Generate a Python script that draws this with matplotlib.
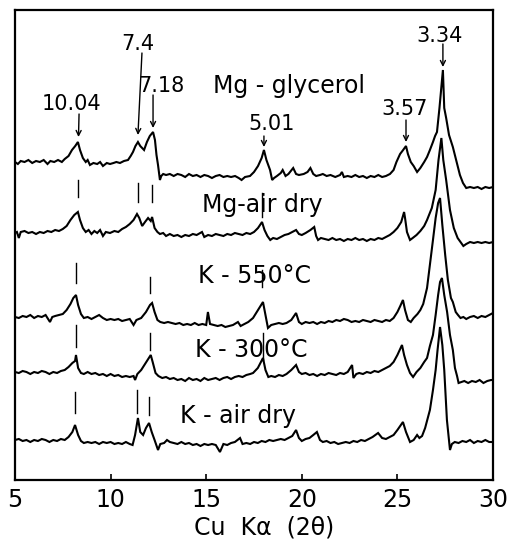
import numpy as np
import matplotlib
matplotlib.use("Agg")
import matplotlib.pyplot as plt

# XRD traces: (2-theta, intensity on the stacked plot scale)
mg_glycerol = np.array([
    (5.00, 318), (5.15, 316), (5.30, 319), (5.50, 318), (5.70, 320), (5.90, 317),
    (6.10, 319), (6.30, 318), (6.50, 320), (6.70, 316), (6.85, 319), (7.05, 318),
    (7.25, 320), (7.45, 318), (7.60, 321), (7.80, 324), (7.98, 330), (8.15, 334),
    (8.29, 338), (8.40, 330), (8.55, 322), (8.70, 318), (8.80, 320), (8.92, 315),
    (9.10, 317), (9.30, 316), (9.45, 318), (9.60, 314), (9.80, 317), (9.97, 316),
    (10.15, 317), (10.30, 318), (10.49, 317), (10.70, 319), (10.91, 320), (11.05, 324),
    (11.17, 328), (11.30, 334), (11.43, 338), (11.55, 334), (11.75, 330), (11.90, 338),
    (12.05, 344), (12.22, 348), (12.32, 340), (12.40, 325), (12.48, 315), (12.58, 300),
    (12.65, 304), (12.75, 306), (12.90, 305), (13.10, 306), (13.30, 304), (13.50, 306),
    (13.70, 305), (13.90, 303), (14.10, 306), (14.30, 304), (14.50, 305), (14.70, 303),
    (14.90, 305), (15.10, 304), (15.30, 302), (15.50, 304), (15.70, 305), (15.90, 303),
    (16.10, 304), (16.30, 303), (16.51, 304), (16.70, 302), (16.85, 300), (17.03, 303),
    (17.29, 304), (17.50, 308), (17.71, 314), (17.90, 322), (18.02, 330), (18.15, 320),
    (18.34, 310), (18.45, 300), (18.55, 302), (18.70, 304), (18.90, 307), (19.00, 310),
    (19.15, 304), (19.30, 306), (19.55, 312), (19.70, 306), (19.85, 305), (20.10, 306),
    (20.30, 308), (20.45, 312), (20.60, 306), (20.75, 304), (20.95, 305), (21.10, 306),
    (21.30, 304), (21.50, 305), (21.75, 303), (22.00, 305), (22.10, 308), (22.20, 303),
    (22.40, 304), (22.60, 303), (22.80, 305), (23.00, 303), (23.20, 304), (23.40, 302),
    (23.60, 304), (23.80, 303), (24.00, 305), (24.20, 303), (24.40, 304), (24.61, 306),
    (24.80, 310), (24.95, 318), (25.14, 326), (25.30, 330), (25.45, 334), (25.55, 326),
    (25.70, 318), (25.85, 314), (26.03, 308), (26.20, 312), (26.40, 318), (26.55, 323),
    (26.70, 330), (26.86, 338), (26.97, 344), (27.07, 348), (27.20, 372), (27.33, 400),
    (27.38, 410), (27.45, 372), (27.55, 362), (27.70, 345), (27.90, 333), (28.10, 318),
    (28.27, 305), (28.43, 297), (28.60, 292), (28.80, 293), (29.00, 292), (29.20, 293),
    (29.40, 291), (29.60, 293), (29.80, 292), (30.00, 293),
])

mg_air_dry = np.array([
    (5.00, 247), (5.10, 248), (5.20, 242), (5.30, 248), (5.50, 249), (5.70, 247),
    (5.90, 248), (6.10, 246), (6.30, 248), (6.50, 247), (6.70, 249), (6.90, 248),
    (7.10, 250), (7.30, 249), (7.50, 251), (7.70, 254), (7.90, 260), (8.10, 265),
    (8.29, 268), (8.40, 260), (8.55, 252), (8.70, 248), (8.85, 250), (9.00, 246),
    (9.15, 249), (9.30, 247), (9.45, 250), (9.60, 244), (9.75, 248), (9.97, 247),
    (10.20, 249), (10.40, 248), (10.60, 251), (10.80, 253), (11.00, 256), (11.20, 260),
    (11.38, 266), (11.50, 262), (11.65, 254), (11.80, 258), (11.96, 262), (12.10, 259),
    (12.17, 263), (12.30, 252), (12.45, 248), (12.58, 246), (12.75, 247), (12.90, 244),
    (13.10, 246), (13.30, 244), (13.50, 245), (13.70, 243), (13.90, 245), (14.10, 244),
    (14.30, 246), (14.50, 245), (14.78, 248), (14.90, 243), (15.10, 245), (15.30, 244),
    (15.50, 246), (15.70, 245), (15.90, 244), (16.10, 246), (16.30, 245), (16.50, 247),
    (16.70, 246), (16.90, 245), (17.10, 247), (17.30, 246), (17.50, 248), (17.71, 252),
    (17.85, 256), (17.92, 258), (18.05, 250), (18.20, 244), (18.35, 240), (18.50, 242),
    (18.70, 241), (18.90, 243), (19.10, 245), (19.30, 246), (19.50, 248), (19.70, 250),
    (19.85, 246), (20.00, 245), (20.20, 247), (20.45, 250), (20.65, 253), (20.75, 244),
    (20.85, 240), (21.00, 242), (21.20, 241), (21.40, 240), (21.60, 242), (21.80, 240),
    (22.00, 241), (22.20, 239), (22.40, 241), (22.60, 240), (22.80, 242), (23.00, 240),
    (23.20, 241), (23.40, 239), (23.60, 241), (23.80, 240), (24.00, 242), (24.20, 241),
    (24.40, 243), (24.60, 245), (24.80, 248), (25.00, 252), (25.20, 258), (25.35, 268),
    (25.40, 262), (25.50, 248), (25.66, 240), (25.80, 242), (26.00, 245), (26.20, 249),
    (26.40, 254), (26.55, 260), (26.80, 272), (27.00, 290), (27.15, 320), (27.30, 342),
    (27.40, 320), (27.55, 300), (27.75, 270), (27.95, 252), (28.15, 242), (28.30, 238),
    (28.45, 234), (28.60, 236), (28.80, 238), (29.00, 237), (29.20, 238), (29.40, 237),
    (29.60, 238), (29.80, 237), (30.00, 238),
])

k_550 = np.array([
    (5.00, 163), (5.20, 162), (5.40, 164), (5.60, 163), (5.80, 165), (6.00, 162),
    (6.20, 164), (6.40, 163), (6.60, 165), (6.83, 158), (6.95, 163), (7.10, 164),
    (7.30, 165), (7.50, 166), (7.70, 170), (7.90, 176), (8.05, 182), (8.19, 185),
    (8.30, 175), (8.45, 166), (8.60, 162), (8.80, 163), (9.00, 161), (9.20, 163),
    (9.40, 165), (9.60, 162), (9.80, 160), (10.00, 161), (10.20, 160), (10.40, 161),
    (10.60, 159), (10.80, 160), (11.00, 161), (11.20, 155), (11.35, 160), (11.60, 162),
    (11.85, 168), (12.06, 175), (12.17, 177), (12.30, 168), (12.45, 160), (12.60, 158),
    (12.80, 157), (13.00, 158), (13.20, 157), (13.40, 156), (13.60, 157), (13.80, 155),
    (14.00, 156), (14.20, 155), (14.40, 157), (14.60, 155), (14.80, 156), (15.00, 155),
    (15.09, 168), (15.20, 156), (15.40, 155), (15.60, 154), (15.80, 155), (16.00, 153),
    (16.20, 154), (16.40, 155), (16.66, 158), (16.80, 154), (17.00, 156), (17.20, 158),
    (17.45, 162), (17.71, 170), (17.97, 178), (18.10, 165), (18.23, 152), (18.40, 155),
    (18.60, 156), (18.80, 157), (19.00, 156), (19.20, 157), (19.45, 160), (19.70, 167),
    (19.85, 158), (20.00, 156), (20.20, 158), (20.40, 157), (20.60, 158), (20.80, 156),
    (21.00, 158), (21.20, 157), (21.40, 159), (21.60, 158), (21.80, 160), (22.00, 159),
    (22.20, 161), (22.40, 160), (22.60, 158), (22.80, 159), (23.00, 158), (23.20, 160),
    (23.40, 159), (23.60, 158), (23.80, 160), (24.00, 159), (24.20, 158), (24.40, 160),
    (24.60, 159), (24.80, 162), (25.00, 168), (25.15, 174), (25.29, 180), (25.40, 170),
    (25.55, 160), (25.70, 158), (25.85, 162), (26.05, 166), (26.20, 170), (26.35, 176),
    (26.55, 192), (26.70, 215), (26.86, 240), (27.00, 262), (27.13, 277), (27.23, 282),
    (27.35, 255), (27.50, 225), (27.64, 200), (27.80, 182), (27.90, 178), (28.05, 168),
    (28.17, 165), (28.30, 162), (28.45, 163), (28.60, 161), (28.80, 163), (29.00, 164),
    (29.20, 162), (29.40, 164), (29.60, 163), (29.80, 165), (30.00, 167),
])

k_300 = np.array([
    (5.00, 108), (5.20, 107), (5.40, 109), (5.60, 108), (5.80, 106), (6.00, 108),
    (6.20, 107), (6.40, 109), (6.60, 108), (6.80, 106), (7.00, 108), (7.20, 107),
    (7.40, 109), (7.60, 110), (7.80, 113), (8.00, 117), (8.14, 119), (8.19, 125),
    (8.30, 112), (8.45, 107), (8.60, 106), (8.80, 108), (9.00, 106), (9.20, 107),
    (9.40, 105), (9.60, 106), (9.80, 104), (10.00, 106), (10.20, 104), (10.40, 105),
    (10.60, 103), (10.80, 104), (11.00, 103), (11.20, 104), (11.28, 100), (11.40, 106),
    (11.60, 110), (11.80, 116), (11.96, 121), (12.10, 125), (12.20, 118), (12.35, 107),
    (12.50, 104), (12.70, 102), (12.90, 103), (13.10, 101), (13.30, 102), (13.50, 100),
    (13.70, 101), (13.90, 99), (14.10, 102), (14.30, 100), (14.50, 101), (14.70, 99),
    (14.90, 102), (15.10, 100), (15.30, 101), (15.50, 102), (15.70, 100), (15.90, 102),
    (16.10, 103), (16.30, 101), (16.50, 103), (16.70, 104), (16.90, 103), (17.10, 105),
    (17.30, 106), (17.45, 107), (17.70, 112), (17.97, 122), (18.10, 110), (18.25, 103),
    (18.40, 104), (18.60, 103), (18.80, 105), (19.00, 104), (19.20, 106), (19.45, 110),
    (19.70, 115), (19.85, 108), (20.00, 106), (20.20, 107), (20.40, 105), (20.60, 106),
    (20.80, 104), (21.00, 106), (21.20, 105), (21.40, 107), (21.60, 106), (21.80, 105),
    (22.00, 107), (22.20, 106), (22.40, 108), (22.63, 115), (22.70, 102), (22.85, 106),
    (23.00, 107), (23.20, 106), (23.40, 108), (23.60, 107), (23.80, 109), (24.00, 108),
    (24.20, 110), (24.40, 112), (24.60, 114), (24.80, 118), (25.00, 125), (25.24, 135),
    (25.35, 125), (25.50, 115), (25.66, 107), (25.82, 103), (26.00, 108), (26.20, 112),
    (26.40, 118), (26.55, 122), (26.70, 134), (26.86, 145), (27.00, 165), (27.13, 185),
    (27.23, 198), (27.33, 202), (27.45, 185), (27.60, 168), (27.75, 145), (27.90, 130),
    (28.01, 112), (28.12, 104), (28.20, 97), (28.35, 98), (28.50, 99), (28.70, 97),
    (28.90, 99), (29.10, 98), (29.30, 100), (29.50, 97), (29.70, 99), (29.90, 100),
    (30.00, 100),
])

k_air_dry = np.array([
    (5.00, 40), (5.20, 41), (5.40, 39), (5.60, 40), (5.80, 38), (6.00, 40),
    (6.20, 39), (6.40, 41), (6.60, 40), (6.80, 38), (7.00, 40), (7.20, 39),
    (7.40, 41), (7.60, 40), (7.80, 43), (8.00, 48), (8.14, 55), (8.30, 45),
    (8.45, 39), (8.60, 37), (8.80, 38), (9.00, 37), (9.20, 38), (9.40, 36),
    (9.60, 38), (9.80, 37), (10.00, 38), (10.20, 36), (10.40, 37), (10.60, 36),
    (10.80, 38), (11.00, 36), (11.15, 35), (11.28, 45), (11.43, 62), (11.55, 48),
    (11.70, 45), (11.85, 52), (12.01, 57), (12.15, 48), (12.30, 40), (12.48, 30),
    (12.60, 36), (12.80, 37), (12.95, 40), (13.10, 38), (13.30, 37), (13.50, 36),
    (13.70, 38), (13.90, 36), (14.10, 37), (14.30, 35), (14.50, 36), (14.70, 34),
    (14.90, 36), (15.10, 35), (15.30, 36), (15.50, 35), (15.72, 28), (15.90, 36),
    (16.10, 35), (16.30, 37), (16.50, 38), (16.77, 42), (16.90, 36), (17.10, 37),
    (17.30, 36), (17.50, 38), (17.70, 37), (17.90, 39), (18.10, 38), (18.30, 40),
    (18.50, 39), (18.70, 40), (18.90, 41), (19.10, 40), (19.30, 42), (19.50, 44),
    (19.70, 50), (19.85, 42), (20.00, 39), (20.20, 41), (20.40, 42), (20.60, 45),
    (20.79, 48), (20.95, 40), (21.10, 38), (21.30, 39), (21.50, 37), (21.70, 38),
    (21.90, 36), (22.10, 37), (22.30, 38), (22.50, 37), (22.70, 39), (22.90, 38),
    (23.10, 40), (23.30, 39), (23.50, 41), (23.70, 43), (23.99, 47), (24.20, 42),
    (24.40, 41), (24.60, 43), (24.80, 45), (25.00, 50), (25.29, 58), (25.45, 48),
    (25.66, 38), (25.85, 40), (26.03, 45), (26.15, 42), (26.29, 44), (26.45, 52),
    (26.70, 70), (26.86, 90), (27.00, 110), (27.10, 130), (27.23, 153), (27.35, 135),
    (27.45, 110), (27.59, 60), (27.70, 40), (27.75, 30), (27.85, 36), (28.00, 38),
    (28.20, 37), (28.40, 39), (28.60, 38), (28.80, 40), (29.00, 37), (29.20, 39),
    (29.40, 38), (29.60, 40), (29.80, 38), (30.00, 38),
])

traces = [mg_glycerol, mg_air_dry, k_550, k_300, k_air_dry]
trace_names = ["Mg - glycerol", "Mg-air dry", "K - 550°C", "K - 300°C", "K - air dry"]
name_pos = [(15.36, 387), (14.78, 268), (14.57, 197), (14.41, 123), (13.63, 57)]

# d-spacing labels (Angstrom) with the peak each arrow points at
d_labels = ["10.04", "7.4", "7.18", "5.01", "3.57", "3.34"]
d_text_pos = [(7.98, 370), (11.43, 430), (12.64, 388), (18.44, 350), (25.40, 365), (27.18, 438)]
d_arrow_from = [(8.35, 366), (11.64, 427), (12.22, 385), (18.02, 344), (25.45, 360), (27.38, 436)]
d_arrow_to = [(8.32, 343), (11.43, 345), (12.22, 352), (18.02, 333), (25.45, 338), (27.38, 413)]

# short vertical guide marks between traces: (2-theta, low, high)
guide_marks = [
    (8.29, 283, 300), (11.43, 278, 297), (12.17, 278, 295),
    (8.19, 197, 217), (12.06, 187, 203), (17.92, 263, 287),
    (8.19, 133, 155), (12.06, 130, 147), (17.92, 193, 210),
    (17.97, 120, 147),
    (8.14, 67, 88), (11.38, 67, 90), (12.01, 65, 83),
]

fig = plt.figure(figsize=(5.07, 5.41), dpi=100)
ax = fig.add_axes([15 / 507, 1 - 480 / 541, 478 / 507, 470 / 541])

for tr in traces:
    ax.plot(tr[:, 0], tr[:, 1], color="black", lw=1.5, solid_joinstyle="miter")

for name, (x, y) in zip(trace_names, name_pos):
    ax.text(x, y, name, fontsize=17, ha="left", va="baseline")

for lab, tp, a0, a1 in zip(d_labels, d_text_pos, d_arrow_from, d_arrow_to):
    ax.text(tp[0], tp[1], lab, fontsize=15, ha="center", va="baseline")
    ax.annotate("", xy=a1, xytext=a0,
                arrowprops=dict(arrowstyle="->", lw=1.0, color="black",
                                shrinkA=0, shrinkB=0, mutation_scale=9))

for x, y0, y1 in guide_marks:
    ax.plot([x, x], [y0, y1], color="black", lw=1.0)

ax.set_xlim(5, 30)
ax.set_ylim(0, 470)
ax.set_xticks([5, 10, 15, 20, 25, 30])
ax.set_yticks([])
ax.tick_params(axis="x", direction="in", length=4, width=1.2, labelsize=17, pad=6)
for sp in ax.spines.values():
    sp.set_linewidth(1.6)

fig.text(264 / 507, 1 - 527 / 541, "Cu  Kα  (2θ)", fontsize=17, ha="center", va="center")

fig.savefig("out.png", dpi=100)
